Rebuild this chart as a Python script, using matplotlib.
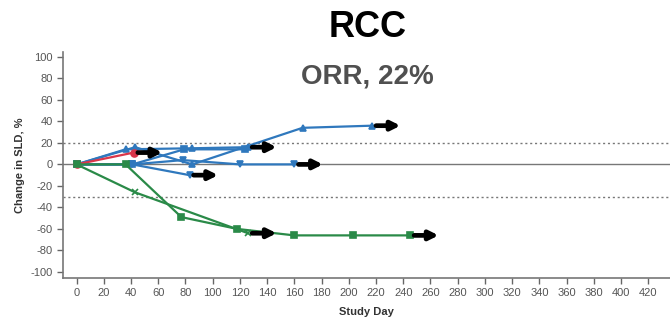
import matplotlib
matplotlib.use("Agg")
import matplotlib.pyplot as plt

plt.rcParams['font.family'] = ['Liberation Sans', 'DejaVu Sans']
plt.rcParams['axes.unicode_minus'] = False

# ---- data (study day, % change in SLD) ----
p1_days = [0, 43, 85, 166, 217]
p1_pct = [0, 16, 0, 34, 36]
p2_days = [0, 41, 79, 124]
p2_pct = [0, 0, 14, 14]
p3_days = [0, 36, 85, 126]
p3_pct = [0, 14, 15, 16]
p4_days = [0, 41, 78, 120, 160]
p4_pct = [0, 0, 4, 0, 0]
p5_days = [0, 41, 83]
p5_pct = [0, 0, -10]
p6_days = [0, 42]
p6_pct = [0, 11]
p7_days = [0, 36, 77, 118, 160, 203, 245]
p7_pct = [0, 0, -49, -60, -66, -66, -66]
p8_days = [0, 43, 126]
p8_pct = [0, -26, -64]

x_ticks = list(range(0, 421, 20))
y_ticks = list(range(-100, 101, 20))
pr_threshold = -30
pd_threshold = 20

BLUE = '#2f78bd'
GREEN = '#2a8a48'
RED = '#d9364a'

patients = [
    (p1_days, p1_pct, BLUE, '^', True),
    (p2_days, p2_pct, BLUE, 's', False),
    (p3_days, p3_pct, BLUE, '^', True),
    (p4_days, p4_pct, BLUE, 'v', True),
    (p5_days, p5_pct, BLUE, 'v', True),
    (p6_days, p6_pct, RED, 'o', True),
    (p8_days, p8_pct, GREEN, 'x', True),
    (p7_days, p7_pct, GREEN, 's', True),
]

fig = plt.figure(figsize=(6.7, 3.25), dpi=100)
ax = fig.add_axes([0.094, 0.145, 0.906, 0.695])

ax.axhline(0, color='#777777', lw=1.0, zorder=1)
ax.axhline(pd_threshold, color='#777777', lw=1.0, ls=(0, (1.5, 2)), zorder=1)
ax.axhline(pr_threshold, color='#777777', lw=1.0, ls=(0, (1.5, 2)), zorder=1)

for d, v, c, m, ongoing in patients:
    ax.plot(d, v, color=c, lw=1.6, marker=m, ms=5, mew=1.2,
            mfc=c, mec=c, zorder=3)
    if ongoing:
        ax.annotate('', xy=(d[-1] + 21, v[-1]), xytext=(d[-1] + 3, v[-1]),
                    arrowprops=dict(arrowstyle='-|>', lw=3.4, color='black',
                                    mutation_scale=13, shrinkA=0, shrinkB=0),
                    zorder=4)

ax.set_xlim(-10, 436)
ax.set_ylim(-105.5, 104.5)
ax.set_xticks(x_ticks)
ax.set_yticks(y_ticks)
ax.tick_params(axis='both', colors='#666666', labelsize=8, length=4,
               width=1.0, direction='out', labelcolor='#555555')
for s in ['top', 'right']:
    ax.spines[s].set_visible(False)
for s in ['left', 'bottom']:
    ax.spines[s].set_color('#777777')
    ax.spines[s].set_linewidth(1.2)

ax.set_xlabel('Study Day', fontsize=8, fontweight='bold', color='#333333',
              labelpad=6)
ax.set_ylabel('Change in SLD, %', fontsize=8, fontweight='bold',
              color='#333333', labelpad=4)

fig.text(0.548, 0.915, 'RCC', fontsize=26, fontweight='bold', color='black',
         ha='center', va='center')
fig.text(0.549, 0.765, 'ORR, 22%', fontsize=20, fontweight='bold',
         color='#505050', ha='center', va='center')

fig.savefig('out.png', dpi=100)
